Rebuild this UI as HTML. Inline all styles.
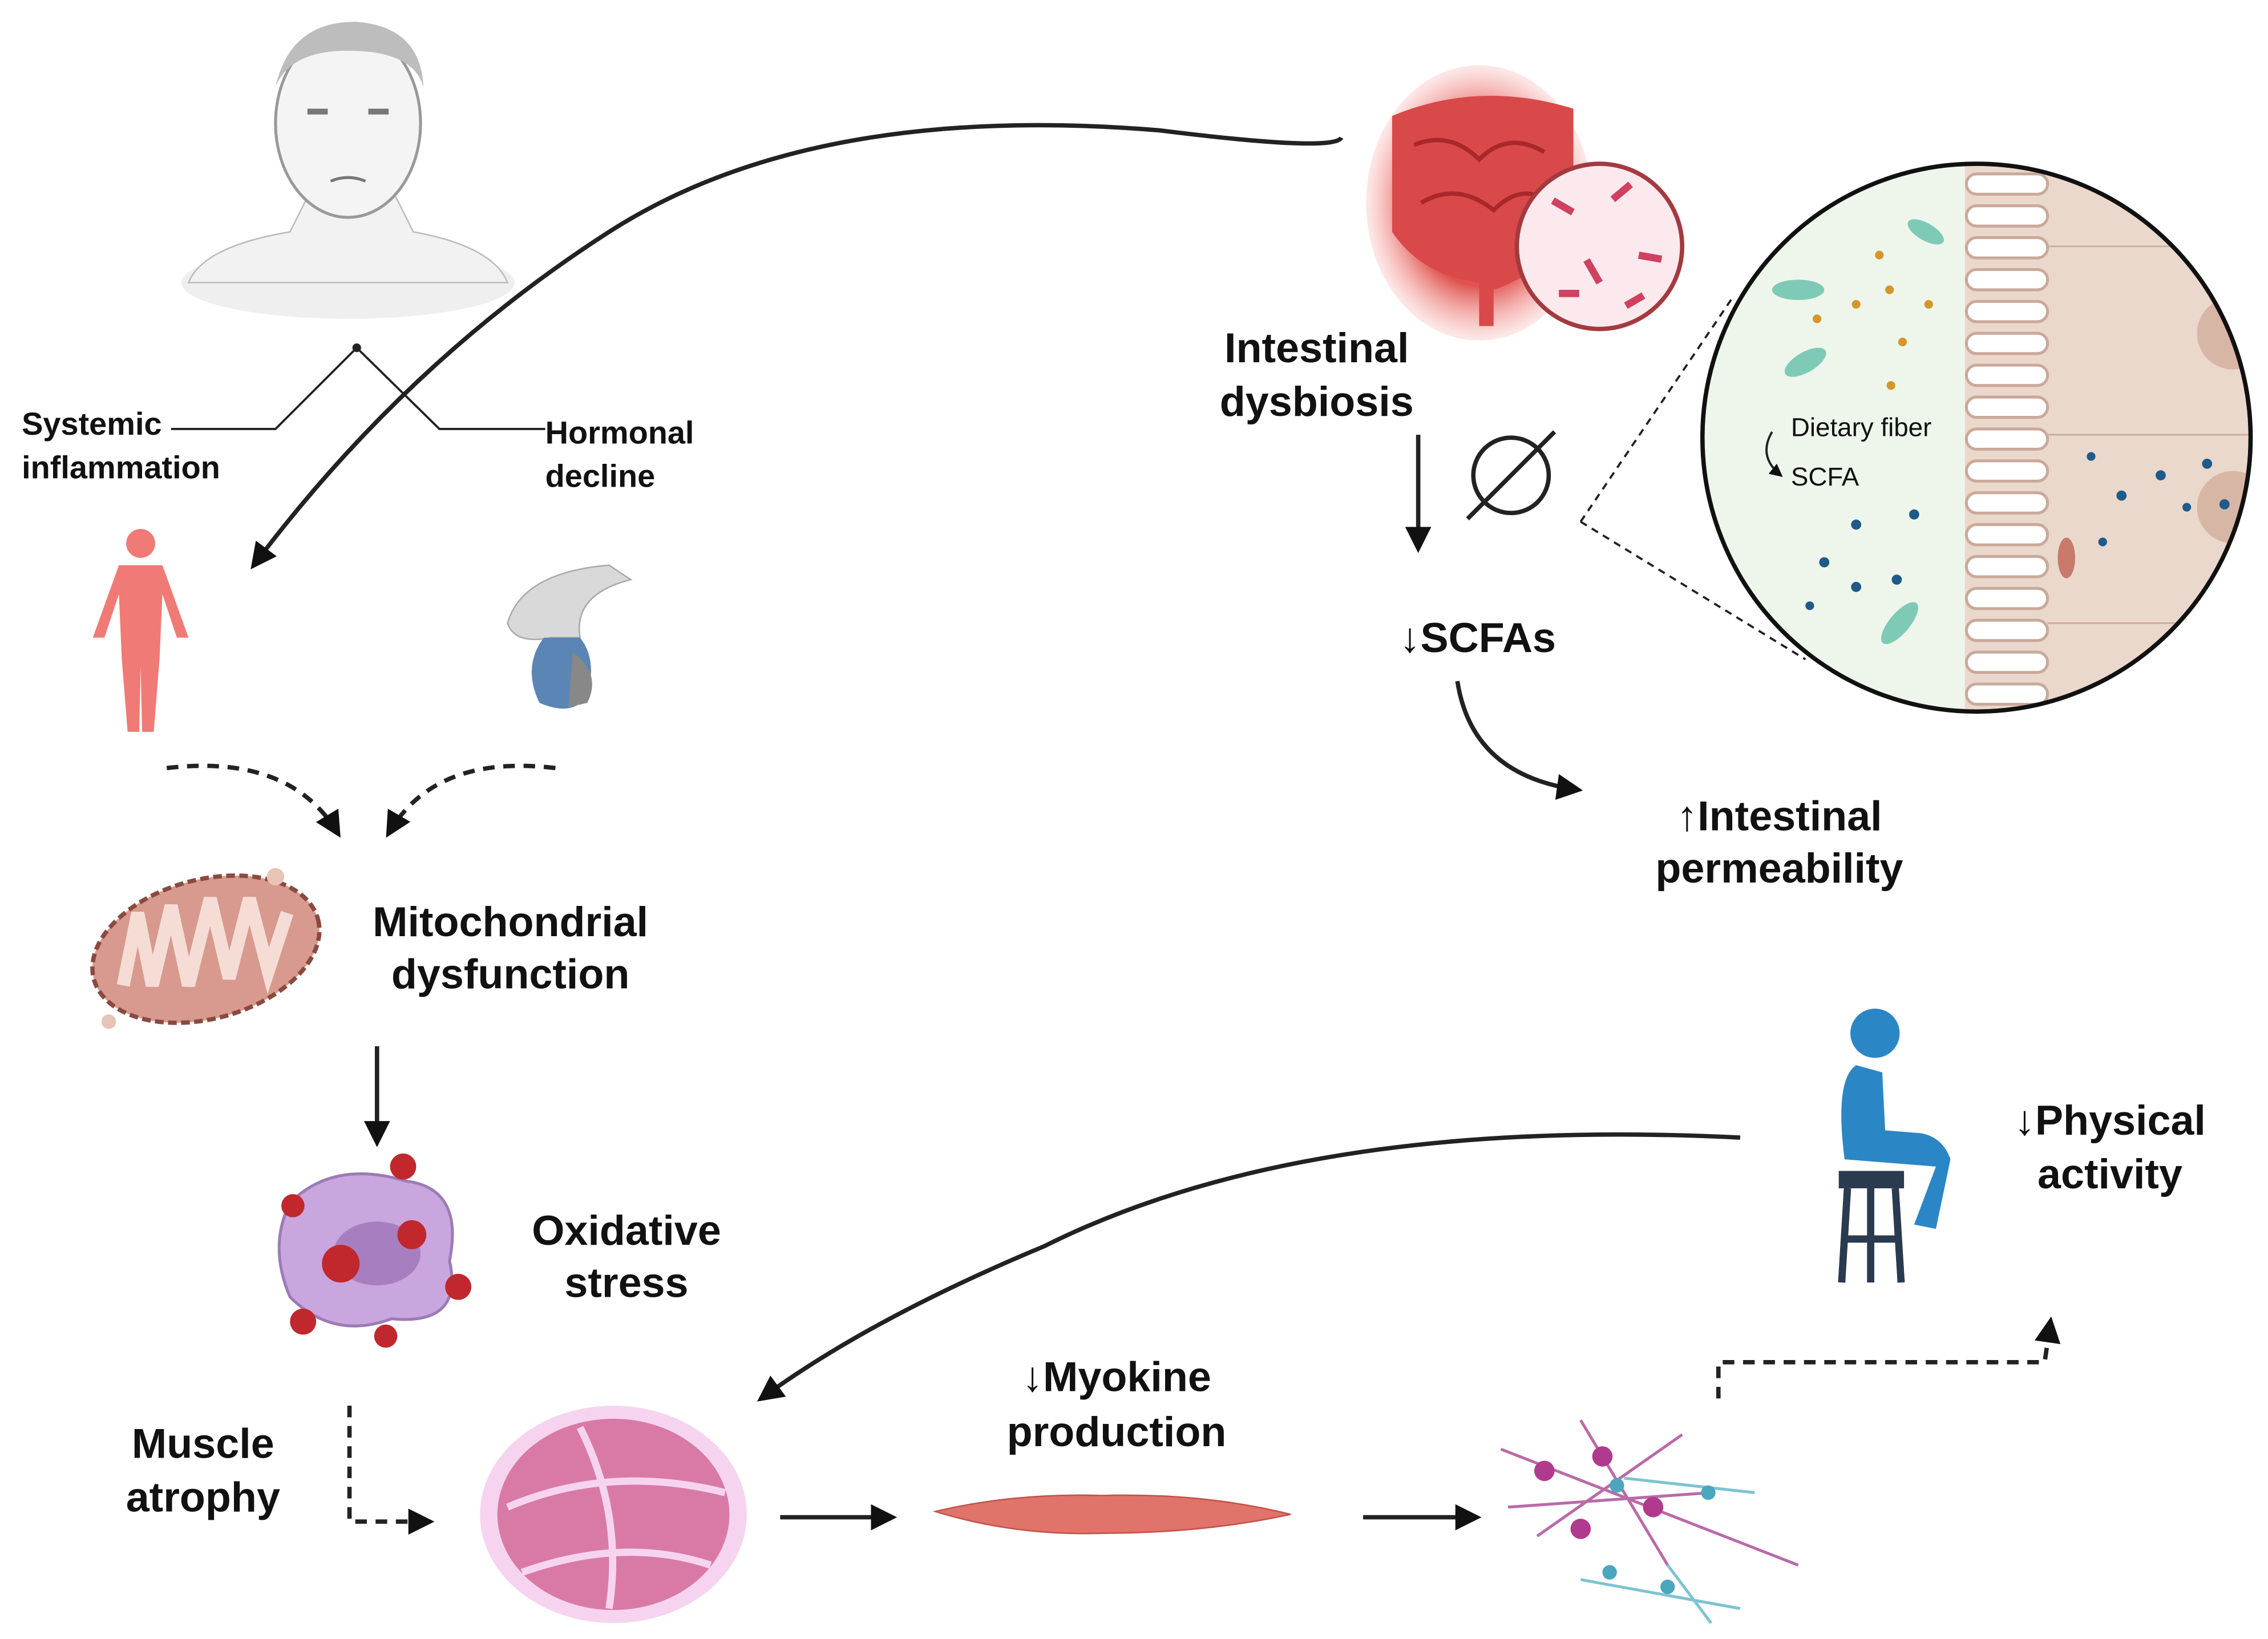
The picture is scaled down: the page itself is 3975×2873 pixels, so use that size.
<!DOCTYPE html>
<html><head><meta charset="utf-8"><style>
html,body{margin:0;padding:0;background:#fff;}
svg{display:block;}
text{font-family:"Liberation Sans",sans-serif;font-weight:bold;fill:#111;}
</style></head><body>
<svg width="3975" height="2873" viewBox="0 0 1564 1131" preserveAspectRatio="none" xmlns="http://www.w3.org/2000/svg">
<defs>
<marker id="ah" viewBox="0 0 10 10" refX="8" refY="5" markerWidth="6" markerHeight="6" orient="auto"><path d="M0,0 L10,5 L0,10 z" fill="#111"/></marker>
<radialGradient id="glow" cx="50%" cy="50%" r="50%"><stop offset="60%" stop-color="#e0534f"/><stop offset="100%" stop-color="#f8b5b2" stop-opacity="0.3"/></radialGradient>
<clipPath id="cc"><circle cx="1363" cy="302" r="189"/></clipPath>
</defs>

<!-- old man -->
<ellipse cx="240" cy="195" rx="115" ry="25" fill="#efefef"/>
<path d="M130,195 Q140,170 200,160 L215,130 L270,130 L285,160 Q340,170 350,195 Z" fill="#f2f2f2" stroke="#bbb"/>
<ellipse cx="240" cy="85" rx="50" ry="65" fill="#f4f4f4" stroke="#999" stroke-width="2"/>
<path d="M190,60 Q200,15 245,15 Q290,18 292,60 Q285,35 240,35 Q200,35 190,60Z" fill="#bdbdbd"/>
<rect x="212" y="75" width="14" height="4" fill="#777"/><rect x="254" y="75" width="14" height="4" fill="#777"/>
<path d="M228,125 Q240,120 252,125" stroke="#777" fill="none" stroke-width="2"/>

<!-- curved arrow top -->
<path d="M925,95 Q920,105 800,90 Q560,70 420,160 Q280,250 175,390" fill="none" stroke="#222" stroke-width="3" marker-end="url(#ah)"/>

<!-- labels left -->
<text x="15" y="300" font-size="22">Systemic</text>
<text x="15" y="330" font-size="22">inflammation</text>
<text x="376" y="306" font-size="22">Hormonal</text>
<text x="376" y="336" font-size="22">decline</text>
<polyline points="118,296 190,296 246,240 303,296 376,296" fill="none" stroke="#222" stroke-width="1.5"/>
<circle cx="246" cy="240" r="3" fill="#222"/>

<!-- red body -->
<g fill="#f07a75">
<circle cx="97" cy="375" r="10"/>
<path d="M82,390 L112,390 L130,440 L122,440 L112,410 L110,455 L106,505 L98,505 L97,460 L96,505 L88,505 L84,455 L82,410 L72,440 L64,440 Z"/>
</g>
<!-- pituitary -->
<path d="M350,430 Q360,395 420,390 L435,400 Q395,410 400,440 L380,440 Q355,445 350,430Z" fill="#d9d9d9" stroke="#aaa"/>
<path d="M375,440 Q360,460 372,485 Q395,495 405,480 Q412,455 400,440Z" fill="#5b85b5"/>
<path d="M395,450 Q415,465 405,485 L392,488 Z" fill="#888"/>

<!-- dashed curves -->
<path d="M115,530 Q200,520 233,575" fill="none" stroke="#222" stroke-width="3" stroke-dasharray="8,6" marker-end="url(#ah)"/>
<path d="M383,530 Q300,520 268,575" fill="none" stroke="#222" stroke-width="3" stroke-dasharray="8,6" marker-end="url(#ah)"/>

<!-- mitochondrion -->
<ellipse cx="142" cy="655" rx="80" ry="48" transform="rotate(-15 142 655)" fill="#d89a8e" stroke="#8a4a40" stroke-width="3" stroke-dasharray="6,3"/>
<path d="M85,680 L95,630 L105,680 L118,625 L130,680 L145,620 L158,675 L172,620 L185,670 L198,630" fill="none" stroke="#f5ddd6" stroke-width="9"/>
<circle cx="190" cy="605" r="6" fill="#e8c3b8"/><circle cx="75" cy="705" r="5" fill="#e8c3b8"/>
<text x="352" y="646" font-size="29" text-anchor="middle">Mitochondrial</text>
<text x="352" y="682" font-size="29" text-anchor="middle">dysfunction</text>
<line x1="260" y1="722" x2="260" y2="788" stroke="#222" stroke-width="3" marker-end="url(#ah)"/>

<!-- oxidative cell -->
<path d="M200,830 Q230,800 280,815 Q320,820 310,870 Q320,915 270,910 Q230,925 200,895 Q185,860 200,830Z" fill="#c9a6dd" stroke="#9c7bb5" stroke-width="2"/>
<ellipse cx="260" cy="865" rx="30" ry="22" fill="#a77fc0"/>
<g fill="#c0282d">
<circle cx="235" cy="872" r="13"/><circle cx="278" cy="805" r="9"/><circle cx="202" cy="832" r="8"/><circle cx="284" cy="852" r="10"/><circle cx="316" cy="888" r="9"/><circle cx="209" cy="912" r="9"/><circle cx="266" cy="922" r="8"/>
</g>
<text x="432" y="859" font-size="29" text-anchor="middle">Oxidative</text>
<text x="432" y="895" font-size="29" text-anchor="middle">stress</text>

<text x="140" y="1006" font-size="29" text-anchor="middle">Muscle</text>
<text x="140" y="1043" font-size="29" text-anchor="middle">atrophy</text>
<polyline points="241,970 241,1050 296,1050" fill="none" stroke="#222" stroke-width="3" stroke-dasharray="8,6" marker-end="url(#ah)"/>

<!-- muscle cross-section -->
<ellipse cx="423" cy="1045" rx="92" ry="75" fill="#f6d4ef"/>
<ellipse cx="423" cy="1045" rx="80" ry="66" fill="#d97aa6"/>
<path d="M350,1040 Q420,1010 500,1030 M360,1085 Q430,1060 490,1080 M400,985 Q430,1045 420,1110" stroke="#f6d4ef" stroke-width="5" fill="none"/>
<line x1="538" y1="1047" x2="615" y2="1047" stroke="#222" stroke-width="3" marker-end="url(#ah)"/>

<text x="770" y="960" font-size="29" text-anchor="middle">↓Myokine</text>
<text x="770" y="998" font-size="29" text-anchor="middle">production</text>
<path d="M645,1043 Q700,1030 760,1032 Q830,1030 890,1045 Q830,1058 760,1058 Q700,1060 645,1043Z" fill="#e0736a" stroke="#c2524b"/>
<line x1="940" y1="1047" x2="1018" y2="1047" stroke="#222" stroke-width="3" marker-end="url(#ah)"/>

<!-- neurons -->
<g stroke="#b96aa8" stroke-width="2" fill="none">
<path d="M1035,1000 L1240,1080 M1060,1060 L1160,990 M1090,980 L1150,1080 M1040,1040 L1180,1030"/>
</g>
<g stroke="#7cc4d1" stroke-width="2" fill="none"><path d="M1090,1090 L1200,1110 M1120,1020 L1210,1030 M1150,1080 L1180,1120"/></g>
<g fill="#b03a8e"><circle cx="1065" cy="1015" r="7"/><circle cx="1105" cy="1005" r="7"/><circle cx="1140" cy="1040" r="7"/><circle cx="1090" cy="1055" r="7"/></g>
<g fill="#4aa7bd"><circle cx="1115" cy="1025" r="5"/><circle cx="1178" cy="1030" r="5"/><circle cx="1110" cy="1085" r="5"/><circle cx="1150" cy="1095" r="5"/></g>

<polyline points="1185,965 1185,940 1410,940 1414,912" fill="none" stroke="#222" stroke-width="3" stroke-dasharray="8,6" marker-end="url(#ah)"/>

<!-- sitting person -->
<g fill="#2b86c5">
<circle cx="1293" cy="713" r="17"/>
<path d="M1280,735 Q1265,745 1272,800 L1335,805 L1320,845 L1335,848 L1345,800 Q1340,785 1325,782 L1300,780 L1298,740 Z"/>
</g>
<rect x="1268" y="808" width="45" height="12" fill="#2a3a4f"/>
<g stroke="#2a3a4f" stroke-width="5"><line x1="1274" y1="820" x2="1270" y2="885"/><line x1="1307" y1="820" x2="1311" y2="885"/><line x1="1290" y1="820" x2="1290" y2="885"/><line x1="1272" y1="855" x2="1309" y2="855"/></g>
<text x="1455" y="783" font-size="29" text-anchor="middle">↓Physical</text>
<text x="1455" y="820" font-size="29" text-anchor="middle">activity</text>
<path d="M1200,785 Q900,770 720,860 Q600,910 525,965" fill="none" stroke="#222" stroke-width="3" marker-end="url(#ah)"/>

<!-- intestine -->
<ellipse cx="1020" cy="140" rx="78" ry="95" fill="url(#glow)"/>
<path d="M960,80 Q1020,55 1085,75 L1085,160 Q1060,190 1030,200 L1030,225 L1020,225 L1020,195 Q980,190 960,160Z" fill="#d9494a"/>
<path d="M975,100 Q1000,90 1020,110 Q1040,90 1065,105 M980,140 Q1005,125 1030,145 Q1050,125 1070,140" stroke="#a9282a" stroke-width="3" fill="none"/>
<circle cx="1103" cy="170" r="57" fill="#fbe9ee" stroke="#a33a3f" stroke-width="3"/>
<g fill="#d0405f">
<rect x="1070" y="140" width="16" height="5" transform="rotate(30 1078 142)"/><rect x="1110" y="130" width="16" height="5" transform="rotate(-40 1118 132)"/><rect x="1090" y="185" width="18" height="5" transform="rotate(60 1099 187)"/><rect x="1130" y="175" width="16" height="5" transform="rotate(10 1138 177)"/><rect x="1075" y="200" width="14" height="5"/><rect x="1120" y="205" width="14" height="5" transform="rotate(-30 1127 207)"/>
</g>
<text x="908" y="250" font-size="29" text-anchor="middle">Intestinal</text>
<text x="908" y="287" font-size="29" text-anchor="middle">dysbiosis</text>
<line x1="978" y1="300" x2="978" y2="378" stroke="#222" stroke-width="3" marker-end="url(#ah)"/>
<circle cx="1042" cy="328" r="26" fill="none" stroke="#222" stroke-width="3"/>
<line x1="1012" y1="358" x2="1072" y2="298" stroke="#222" stroke-width="3"/>
<text x="965" y="450" font-size="29">↓SCFAs</text>
<path d="M1005,470 Q1015,535 1088,545" fill="none" stroke="#222" stroke-width="3" marker-end="url(#ah)"/>
<text x="1227" y="573" font-size="29" text-anchor="middle">↑Intestinal</text>
<text x="1227" y="609" font-size="29" text-anchor="middle">permeability</text>

<!-- zoom circle -->
<line x1="1090" y1="360" x2="1195" y2="205" stroke="#222" stroke-width="1.5" stroke-dasharray="5,4"/>
<line x1="1090" y1="360" x2="1245" y2="455" stroke="#222" stroke-width="1.5" stroke-dasharray="5,4"/>
<g clip-path="url(#cc)">
<rect x="1170" y="110" width="400" height="400" fill="#eef6ec"/>
<rect x="1355" y="110" width="210" height="400" fill="#ead8cc"/>
<g fill="#fff" stroke="#c9a99a" stroke-width="2">
<rect x="1356" y="120" width="56" height="14" rx="7"/><rect x="1356" y="142" width="56" height="14" rx="7"/><rect x="1356" y="164" width="56" height="14" rx="7"/><rect x="1356" y="186" width="56" height="14" rx="7"/><rect x="1356" y="208" width="56" height="14" rx="7"/><rect x="1356" y="230" width="56" height="14" rx="7"/><rect x="1356" y="252" width="56" height="14" rx="7"/><rect x="1356" y="274" width="56" height="14" rx="7"/><rect x="1356" y="296" width="56" height="14" rx="7"/><rect x="1356" y="318" width="56" height="14" rx="7"/><rect x="1356" y="340" width="56" height="14" rx="7"/><rect x="1356" y="362" width="56" height="14" rx="7"/><rect x="1356" y="384" width="56" height="14" rx="7"/><rect x="1356" y="406" width="56" height="14" rx="7"/><rect x="1356" y="428" width="56" height="14" rx="7"/><rect x="1356" y="450" width="56" height="14" rx="7"/><rect x="1356" y="472" width="56" height="14" rx="7"/>
</g>
<line x1="1412" y1="170" x2="1560" y2="170" stroke="#c9a99a"/><line x1="1412" y1="300" x2="1560" y2="300" stroke="#c9a99a"/><line x1="1412" y1="430" x2="1560" y2="430" stroke="#c9a99a"/>
<circle cx="1540" cy="230" r="25" fill="#d8b6a6"/><circle cx="1540" cy="350" r="25" fill="#d8b6a6"/>
<ellipse cx="1425" cy="385" rx="6" ry="14" fill="#c97a6a"/>
<g fill="#7fcab7"><ellipse cx="1240" cy="200" rx="18" ry="7"/><ellipse cx="1245" cy="250" rx="16" ry="7" transform="rotate(-30 1245 250)"/><ellipse cx="1328" cy="160" rx="14" ry="6" transform="rotate(30 1328 160)"/><ellipse cx="1310" cy="430" rx="7" ry="18" transform="rotate(40 1310 430)"/></g>
<g fill="#d6962b"><circle cx="1280" cy="210" r="3"/><circle cx="1303" cy="200" r="3"/><circle cx="1312" cy="236" r="3"/><circle cx="1296" cy="176" r="3"/><circle cx="1330" cy="210" r="3"/><circle cx="1304" cy="266" r="3"/><circle cx="1253" cy="220" r="3"/></g>
<g fill="#1f5a88"><circle cx="1280" cy="362" r="3.5"/><circle cx="1320" cy="355" r="3.5"/><circle cx="1258" cy="388" r="3.5"/><circle cx="1308" cy="400" r="3.5"/><circle cx="1280" cy="405" r="3.5"/><circle cx="1248" cy="418" r="3"/><circle cx="1442" cy="315" r="3"/><circle cx="1490" cy="328" r="3.5"/><circle cx="1463" cy="342" r="3.5"/><circle cx="1522" cy="320" r="3.5"/><circle cx="1450" cy="374" r="3"/><circle cx="1508" cy="350" r="3"/><circle cx="1534" cy="348" r="3.5"/></g>
<text x="1235" y="301" font-size="18" style="font-weight:normal">Dietary fiber</text>
<text x="1235" y="335" font-size="18" style="font-weight:normal">SCFA</text>
<path d="M1222,298 Q1212,315 1228,328" fill="none" stroke="#222" stroke-width="1.5" marker-end="url(#ah)"/>
</g>
<circle cx="1363" cy="302" r="189" fill="none" stroke="#111" stroke-width="3"/>
</svg>
</body></html>
